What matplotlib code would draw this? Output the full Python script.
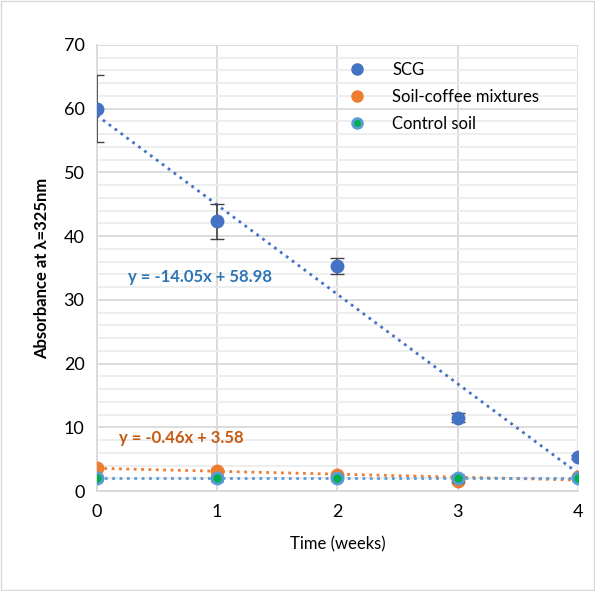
import numpy as np
import matplotlib.pyplot as plt
from matplotlib.ticker import MultipleLocator
from matplotlib.lines import Line2D

plt.rcParams['font.family'] = ['Lato', 'DejaVu Sans']

weeks = np.array([0, 1, 2, 3, 4])
scg = np.array([60.0, 42.3, 35.3, 11.5, 5.3])
scg_err = np.array([5.3, 2.7, 1.2, 0.7, 0.3])
mix = np.array([3.7, 3.2, 2.6, 1.6, 2.2])
mix_err = np.array([0.3, 0.3, 0.3, 0.3, 0.2])
ctrl = np.array([2.0, 2.0, 2.0, 2.0, 2.0])
ctrl_err = np.array([0.3, 0.4, 0.3, 0.5, 0.2])
labels = ['SCG', 'Soil-coffee mixtures', 'Control soil']

fig = plt.figure(figsize=(5.95, 5.91), dpi=100)
ax = fig.add_axes([0.163, 0.169, 0.808, 0.755])

x = np.linspace(0, 4, 50)
for y, col in [(scg, '#4472C4'), (mix, '#ED7D31'), (ctrl, '#5B9BD5')]:
    p = np.polyfit(weeks, y, 1)
    ax.plot(x, np.polyval(p, x), ':', color=col, lw=2, zorder=2)

ax.errorbar(weeks, scg, yerr=scg_err, fmt='o', color='#4472C4', ms=9,
            ecolor='#404040', elinewidth=1.2, capsize=5, zorder=4)
ax.errorbar(weeks, mix, yerr=mix_err, fmt='o', color='#ED7D31', ms=9,
            ecolor='#404040', elinewidth=1.2, capsize=4, zorder=3)
ax.errorbar(weeks, ctrl, yerr=ctrl_err, fmt='o', mfc='#00B050', mec='#5B9BD5', mew=2, ms=8,
            ecolor='#404040', elinewidth=1.2, capsize=4, zorder=5)

ax.text(0.26, 33.6, 'y = -14.05x + 58.98', color='#2E75B6', fontsize=12, fontweight='bold', va='center')
ax.text(0.18, 8.3, 'y = -0.46x + 3.58', color='#C55A11', fontsize=12, fontweight='bold', va='center')

ax.set_xlim(0, 4)
ax.set_ylim(0, 70)
ax.xaxis.set_major_locator(MultipleLocator(1))
ax.yaxis.set_major_locator(MultipleLocator(10))
ax.yaxis.set_minor_locator(MultipleLocator(2))
ax.grid(which='major', color='#D9D9D9', lw=1.3)
ax.grid(which='minor', axis='y', color='#EDEDED', lw=1.3)
ax.set_axisbelow(True)
ax.tick_params(which='both', length=0, labelsize=13, pad=9)
for s in ['top', 'right']:
    ax.spines[s].set_visible(False)
for s in ['left', 'bottom']:
    ax.spines[s].set_color('#D9D9D9')
    ax.spines[s].set_linewidth(1.3)
ax.set_xlabel('Time (weeks)', fontsize=12, labelpad=12)
ax.set_ylabel('Absorbance at λ=325nm', fontsize=12, fontweight='bold', labelpad=10)

handles = [
    Line2D([], [], ls='', marker='o', color='#4472C4', ms=8),
    Line2D([], [], ls='', marker='o', color='#ED7D31', ms=8),
    Line2D([], [], ls='', marker='o', mfc='#00B050', mec='#5B9BD5', mew=2, ms=7),
]
ax.legend(handles, labels, loc='upper left', bbox_to_anchor=(0.475, 0.995), frameon=False,
          fontsize=12, handletextpad=1.1, labelspacing=0.65)
fig.patches.append(plt.Rectangle((0.002, 0.002), 0.996, 0.996, transform=fig.transFigure,
                                 fill=False, ec='#D9D9D9', lw=1))

plt.savefig('out.png', dpi=100)
